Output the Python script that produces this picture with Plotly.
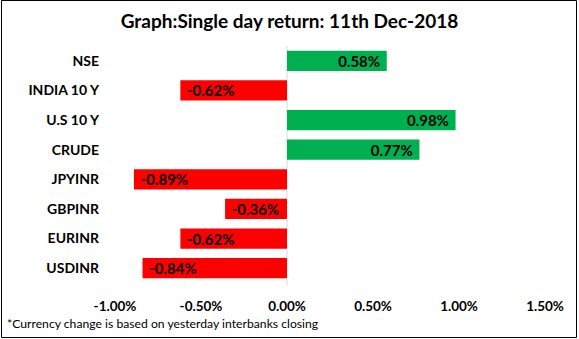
import plotly.graph_objects as go

# Single day returns (%) on 11 Dec 2018, listed top to bottom
categories = ["NSE", "INDIA 10 Y", "U.S 10 Y", "CRUDE", "JPYINR", "GBPINR", "EURINR", "USDINR"]
returns_pct = [0.58, -0.62, 0.98, 0.77, -0.89, -0.36, -0.62, -0.84]
tick_vals = [-1.0, -0.5, 0.0, 0.5, 1.0, 1.5]
tick_text = ["-1.00%", "-0.50%", "0.00%", "0.50%", "1.00%", "1.50%"]

GREEN = "#00B050"
RED = "#FF0000"
FONT = "Lato, 'Open Sans', sans-serif"

colors = [GREEN if v >= 0 else RED for v in returns_pct]
PAD = "&nbsp;"
labels = [f"{v:.2f}%{PAD}" if v >= 0 else f"{PAD}{v:.2f}%" for v in returns_pct]

fig = go.Figure(
    go.Bar(
        x=returns_pct,
        y=categories,
        orientation="h",
        marker=dict(color=colors, line=dict(width=0)),
        text=labels,
        textposition="inside",
        insidetextanchor="end",
        textangle=0,
        textfont=dict(family=FONT, size=15, color="black", weight="bold"),
        constraintext="none",
        cliponaxis=False,
    )
)

fig.update_layout(
    width=579,
    height=339,
    margin=dict(l=115, r=34, t=46, b=56),
    paper_bgcolor="white",
    plot_bgcolor="white",
    bargap=0.32,
    showlegend=False,
    title=dict(
        text="<b>Graph:Single day return: 11th Dec-2018</b>",
        x=0.5,
        xanchor="center",
        y=1 - 21.5 / 339,
        yanchor="middle",
        font=dict(family=FONT, size=19, color="black"),
    ),
    xaxis=dict(
        range=[-1.0, 1.5],
        tickvals=tick_vals,
        ticktext=tick_text,
        showgrid=False,
        zeroline=False,
        showline=False,
        ticks="",
        tickfont=dict(family=FONT, size=13.5, color="black", weight="bold"),
        ticklabelstandoff=13,
    ),
    yaxis=dict(
        categoryorder="array",
        categoryarray=categories[::-1],
        showgrid=False,
        zeroline=False,
        showline=False,
        ticks="",
        tickfont=dict(family=FONT, size=14, color="black", weight="bold"),
        ticklabelstandoff=15,
    ),
    shapes=[
        # vertical zero line
        dict(type="line", xref="x", yref="paper", x0=0, x1=0, y0=-0.01, y1=1.0,
             line=dict(color="#D9D9D9", width=1), layer="below"),
        # chart border
        dict(type="rect", xref="paper", yref="paper",
             x0=(1.5 - 115) / 430, x1=(576.5 - 115) / 430,
             y0=-(337.5 - 283) / 237, y1=1 + (46 - 0.5) / 237,
             line=dict(color="black", width=1)),
    ],
    annotations=[
        dict(text="*Currency change is based on yesterday interbanks closing",
             xref="paper", yref="paper",
             x=(5 - 115) / 430, y=-(323.5 - 283) / 237,
             xanchor="left", yanchor="middle", showarrow=False,
             font=dict(family=FONT, size=12.2, color="black")),
    ],
)

fig.write_html("out.html")
